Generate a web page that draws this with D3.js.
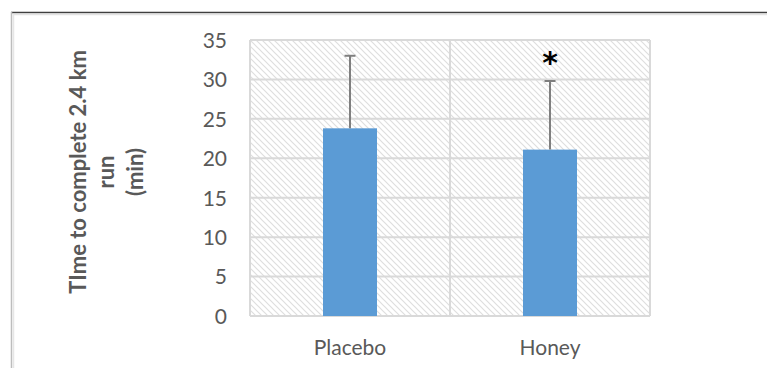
<!DOCTYPE html>
<html>
<head>
<meta charset="utf-8">
<script src="https://cdn.jsdelivr.net/npm/d3@7"></script>
<style>
  html, body { margin: 0; padding: 0; background: #fff; }
  svg { display: block; }
</style>
</head>
<body>
<svg id="chart" width="767" height="368"></svg>
<script>
// Run time per condition: mean and standard deviation (minutes)
const categories = ["Placebo", "Honey"];
const means = [23.8, 21.1];
const sds = [9.2, 8.7];
const significant = [false, true];
const yTicks = [0, 5, 10, 15, 20, 25, 30, 35];
const titleLines = ["TIme to complete 2.4 km", "run", "(min)"];

const W = 767, H = 368;
const plot = { left: 250, right: 650, top: 40, bottom: 316 };
const font = "Lato, 'Open Sans', sans-serif";
const textGray = "#595959";

const svg = d3.select("#chart");

// Chart frame
svg.append("line").attr("x1", 11).attr("x2", W).attr("y1", 12.5).attr("y2", 12.5)
  .attr("stroke", "#3f3f3f").attr("stroke-width", 1.5);
svg.append("line").attr("x1", 13).attr("x2", W).attr("y1", 14.5).attr("y2", 14.5)
  .attr("stroke", "#e3e3e3").attr("stroke-width", 1.5);
svg.append("line").attr("x1", 11.5).attr("x2", 11.5).attr("y1", 12).attr("y2", H)
  .attr("stroke", "#bdbdbd").attr("stroke-width", 1.5);
svg.append("line").attr("x1", 13.5).attr("x2", 13.5).attr("y1", 14).attr("y2", H)
  .attr("stroke", "#e6e6e6").attr("stroke-width", 1.5);

// Diagonal hatch for the plot background
const defs = svg.append("defs");
const pat = defs.append("pattern").attr("id", "hatch")
  .attr("patternUnits", "userSpaceOnUse").attr("width", 6).attr("height", 6);
pat.append("path").attr("d", "M-1,-1 L7,7 M-1,5 L1,7 M5,-1 L7,1")
  .attr("stroke", "#dedede").attr("stroke-width", 1.2);

const x = d3.scaleBand().domain(categories).range([plot.left, plot.right]).padding(0);
const y = d3.scaleLinear().domain([0, 35]).range([plot.bottom, plot.top]);

svg.append("rect").attr("x", plot.left).attr("y", plot.top)
  .attr("width", plot.right - plot.left).attr("height", plot.bottom - plot.top)
  .attr("fill", "url(#hatch)");

// Horizontal gridlines
svg.append("g").selectAll("line").data(yTicks).join("line")
  .attr("x1", plot.left).attr("x2", plot.right)
  .attr("y1", d => y(d)).attr("y2", d => y(d))
  .attr("stroke", "#d9d9d9").attr("stroke-width", 2);

// Vertical gridlines at category boundaries
const bounds = [plot.left, ...categories.map(c => x(c) + x.bandwidth())];
svg.append("g").selectAll("line").data(bounds).join("line")
  .attr("x1", d => d).attr("x2", d => d)
  .attr("y1", plot.top).attr("y2", plot.bottom)
  .attr("stroke", "#d9d9d9").attr("stroke-width", 2);

// Y axis tick labels
const yAxis = d3.axisLeft(y).tickValues(yTicks).tickSize(0).tickPadding(23);
const gy = svg.append("g").attr("transform", `translate(${plot.left},0)`).call(yAxis);
gy.select(".domain").remove();
gy.selectAll("text").attr("font-family", font).attr("font-size", 21)
  .attr("fill", textGray).attr("dy", "0.35em");

// X axis category labels
const xAxis = d3.axisBottom(x).tickSize(0).tickPadding(24);
const gx = svg.append("g").attr("transform", `translate(0,${plot.bottom})`).call(xAxis);
gx.select(".domain").remove();
gx.selectAll("text").attr("font-family", font).attr("font-size", 21).attr("fill", textGray);

// Bars
const barW = x.bandwidth() * 0.27;
const data = categories.map((c, i) => ({ c, m: means[i], sd: sds[i], sig: significant[i] }));
svg.append("g").selectAll("rect").data(data).join("rect")
  .attr("x", d => x(d.c) + x.bandwidth() / 2 - barW / 2)
  .attr("y", d => y(d.m))
  .attr("width", barW)
  .attr("height", d => y(0) - y(d.m))
  .attr("fill", "#5b9bd5");

// Error bars (upper only)
const eb = svg.append("g").attr("stroke", "#7f7f7f").attr("stroke-width", 2);
data.forEach(d => {
  const cx = x(d.c) + x.bandwidth() / 2;
  eb.append("line").attr("x1", cx).attr("x2", cx).attr("y1", y(d.m)).attr("y2", y(d.m + d.sd));
  eb.append("line").attr("x1", cx - 5.5).attr("x2", cx + 5.5)
    .attr("y1", y(d.m + d.sd)).attr("y2", y(d.m + d.sd));
});

// Significance marker
svg.append("g").selectAll("text").data(data.filter(d => d.sig)).join("text")
  .attr("x", d => x(d.c) + x.bandwidth() / 2)
  .attr("y", 73)
  .attr("text-anchor", "middle")
  .attr("font-family", "'DejaVu Sans', sans-serif")
  .attr("font-weight", "bold").attr("font-size", 30)
  .attr("fill", "#000").text("*");

// Y axis title
const title = svg.append("text")
  .attr("transform", `translate(78,${(plot.top + plot.bottom) / 2 - 6}) rotate(-90)`)
  .attr("text-anchor", "middle")
  .attr("font-family", font).attr("font-weight", "bold").attr("font-size", 22)
  .attr("fill", textGray);
titleLines.forEach((t, i) => {
  title.append("tspan").attr("x", 0).attr("dy", i === 0 ? "0.35em" : "1.3em").text(t);
});
</script>
</body>
</html>
